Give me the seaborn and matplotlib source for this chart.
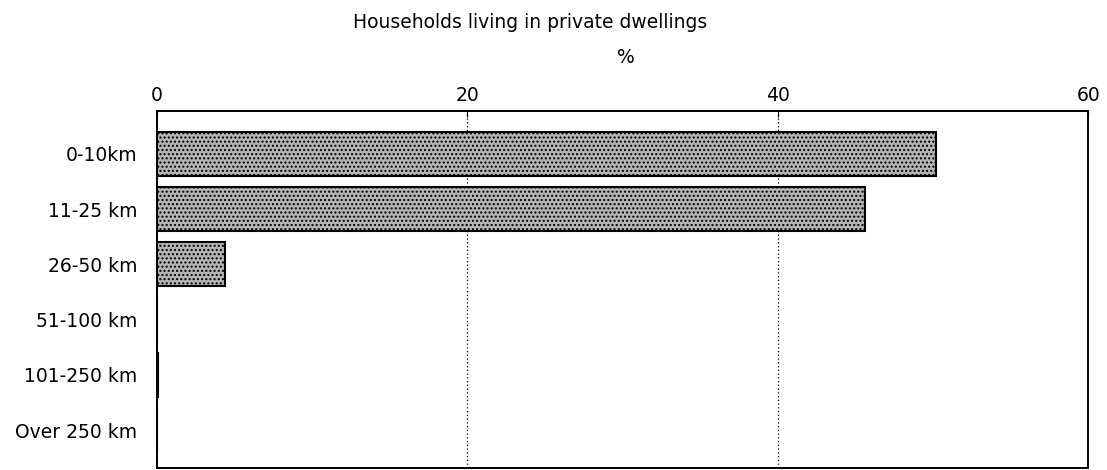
import matplotlib.pyplot as plt
import seaborn as sns
import pandas as pd

# Data
distances = ['0-10km', '11-25 km', '26-50 km', '51-100 km', '101-250 km', 'Over 250 km']
percent = [50.2, 45.6, 4.4, 0.0, 0.1, 0.0]

df = pd.DataFrame({'Distance': distances, 'Percent': percent})

sns.set_style('white')
plt.rcParams['font.family'] = ['DejaVu Sans']
plt.rcParams['hatch.color'] = '#6e6e6e'
plt.rcParams['text.color'] = 'black'
plt.rcParams['xtick.color'] = 'black'
plt.rcParams['ytick.color'] = 'black'

fig = plt.figure(figsize=(11.07, 4.70), dpi=100)
ax = fig.add_axes([0.1414, 0.004, 0.8416, 0.76])

sns.barplot(x='Percent', y='Distance', data=df, orient='h', ax=ax,
            color='#b5b5b5', edgecolor='black', linewidth=1.5, width=0.8,
            saturation=1)
for p in ax.patches:
    p.set_hatch('....')

# Dotted gridlines at 20 and 40
for gx in [20, 40]:
    ax.axvline(gx, color='black', linestyle=(0, (1, 2)), linewidth=0.9, zorder=0)

ax.set_xlim(0, 60)
ax.set_ylim(5.69, -0.78)
ax.set_xticks([0, 20, 40, 60])
ax.xaxis.tick_top()
ax.tick_params(axis='x', direction='in', length=4, labelsize=13.5, pad=4)
ax.tick_params(axis='y', length=0, labelsize=13.5, pad=14)
ax.set_xlabel('')
ax.set_ylabel('')
for s in ax.spines.values():
    s.set_color('black')
    s.set_linewidth(1.4)

fig.text(0.479, 0.953, 'Households living in private dwellings', ha='center', va='center', fontsize=13.5)
fig.text(0.565, 0.877, '%', ha='center', va='center', fontsize=13.5)

fig.savefig('out.png', dpi=100)
